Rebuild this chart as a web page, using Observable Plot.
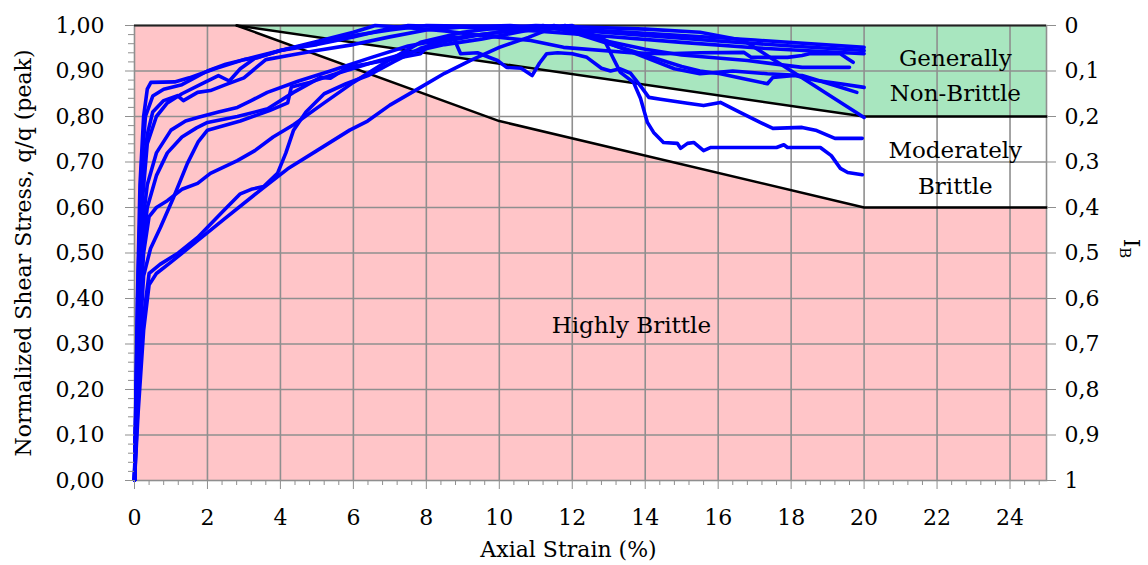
<!DOCTYPE html>
<html>
<head>
<meta charset="utf-8">
<script src="https://cdn.jsdelivr.net/npm/d3@7"></script>
<script src="https://cdn.jsdelivr.net/npm/@observablehq/plot@0.6"></script>
<style>
  html, body { margin: 0; padding: 0; background: #fff; }
</style>
</head>
<body>
<div id="chart"></div>
<script>
// ---- Tick values / labels ----
const xMajor = [0, 2, 4, 6, 8, 10, 12, 14, 16, 18, 20, 22, 24];
const xMinor = d3.range(0, 63).map(i => i * 0.4).filter(v => Math.abs(v / 2 - Math.round(v / 2)) > 1e-6);
const yMajor = [0, 0.1, 0.2, 0.3, 0.4, 0.5, 0.6, 0.7, 0.8, 0.9, 1.0];
const yMinor = d3.range(0, 51).map(i => i * 0.02).filter(v => Math.abs(v * 10 - Math.round(v * 10)) > 1e-6);
const xGrid = [2, 4, 6, 8, 10, 12, 14, 16, 18, 20, 22, 24];
const yGrid = [0.1, 0.2, 0.3, 0.4, 0.5, 0.6, 0.7, 0.8, 0.9];

// ---- Brittleness zone boundaries ----
const upperX = [2.8, 20, 25];
const upperY = [1.0, 0.80, 0.80];
const lowerX = [2.8, 10, 20, 25];
const lowerY = [1.0, 0.79, 0.60, 0.60];

// ---- Zone labels ----
const zoneLabels = [
  {text: "Highly Brittle", x: 13.62, y: 0.34},
  {text: "Generally", x: 22.5, y: 0.927},
  {text: "Non-Brittle", x: 22.5, y: 0.850},
  {text: "Moderately", x: 22.5, y: 0.725},
  {text: "Brittle", x: 22.5, y: 0.645}
];

// ---- Test curves: [axial strain %, q/q peak] ----
const curveS1 = [[0,0],[0.08,0.4],[0.15,0.65],[0.25,0.8],[0.35,0.86],[0.45,0.875],[1.1,0.876],[1.5,0.885],[2.2,0.905],[3,0.925],[4,0.945],[5,0.962],[6,0.978],[7,0.99],[8,1.0],[9.5,0.998],[11,0.995],[13,0.988],[15,0.978],[17,0.968],[20,0.952]];
const curveS2 = [[0,0],[0.1,0.4],[0.2,0.65],[0.35,0.76],[0.5,0.81],[0.8,0.835],[1.18,0.846],[1.34,0.835],[1.73,0.853],[2.08,0.857],[2.5,0.87],[3,0.885],[3.3,0.905],[3.6,0.925],[4.3,0.935],[5,0.945],[6,0.958],[7,0.975],[8,0.99],[9,0.997],[10.3,1.0],[12,0.99],[14,0.978],[16,0.966],[18,0.955],[20,0.945]];
const curveS3 = [[0,0],[0.1,0.35],[0.2,0.6],[0.35,0.74],[0.6,0.8],[0.9,0.83],[1.3,0.85],[1.8,0.87],[2.3,0.89],[2.6,0.878],[2.9,0.905],[3.3,0.928],[4,0.945],[5,0.958],[6,0.975],[6.8,0.99],[7.5,1.0],[9,0.996],[11,0.988],[13,0.976],[15,0.963],[17,0.951],[20,0.938]];
const curveS4 = [[0,0],[0.1,0.45],[0.2,0.7],[0.3,0.8],[0.5,0.845],[0.8,0.86],[1.3,0.87],[2,0.9],[2.5,0.915],[3,0.925],[3.4,0.93],[4,0.945],[5,0.965],[6,0.985],[6.6,1.0],[7.5,0.995],[8.5,0.988],[9.5,0.978],[10.86,0.967],[11.76,0.952],[13.6,0.94],[14.5,0.938],[15.5,0.94],[16.7,0.941],[16.9,0.93],[17.9,0.93],[18.3,0.934],[18.5,0.938],[19.35,0.938],[19.55,0.927],[19.7,0.919]];
const curveM1 = [[0,0],[0.1,0.35],[0.2,0.55],[0.35,0.65],[0.6,0.72],[1.0,0.77],[1.4,0.79],[1.73,0.798],[2.3,0.81],[2.82,0.82],[3.2,0.835],[3.64,0.853],[4.5,0.878],[5.37,0.90],[6.5,0.93],[7.5,0.955],[8.5,0.97],[10,0.985],[11,0.995],[12,1.0],[12.6,0.975],[13.2,0.955],[14,0.93],[14.8,0.905],[15.5,0.894],[16.4,0.90],[17.35,0.894],[18.3,0.89],[19.2,0.868],[19.8,0.853]];
const curveM2 = [[0,0],[0.1,0.25],[0.25,0.45],[0.44,0.51],[0.71,0.556],[1.07,0.622],[1.45,0.697],[1.75,0.745],[2.0,0.77],[2.9,0.79],[3.7,0.813],[4.2,0.83],[4.3,0.865],[4.8,0.875],[5.37,0.89],[6.5,0.918],[7.5,0.94],[8.5,0.958],[9.5,0.97],[10.5,0.985],[11.5,1.0],[12.3,0.985],[13,0.965],[14,0.948],[15,0.935],[16.8,0.923],[18.3,0.908],[19.6,0.908]];
const curveD1 = [[0,0],[0.1,0.3],[0.2,0.5],[0.35,0.6],[0.6,0.67],[0.9,0.72],[1.3,0.755],[1.7,0.775],[2.0,0.787],[2.82,0.80],[3.65,0.817],[4.36,0.853],[5.1,0.886],[5.37,0.884],[5.84,0.908],[6.39,0.916],[7.84,0.938],[8.2,0.967],[8.74,0.974],[8.94,0.938],[9.4,0.94],[9.95,0.923],[10.2,0.908],[10.6,0.906],[10.9,0.89],[11.1,0.917],[11.3,0.938],[11.6,0.94],[12.0,0.938],[12.4,0.93],[12.8,0.906],[13.05,0.90],[13.3,0.905],[13.6,0.895],[13.9,0.864],[14.1,0.842],[14.42,0.838],[15.16,0.829],[15.6,0.824],[16.06,0.831],[16.6,0.809],[17.15,0.787],[17.5,0.774],[18.3,0.776],[18.7,0.769],[19.2,0.752],[19.95,0.752]];
const curveL1 = [[0,0],[0.1,0.15],[0.25,0.33],[0.4,0.43],[0.6,0.455],[1.0,0.48],[1.73,0.527],[2.5,0.577],[3.54,0.644],[4.2,0.685],[5.0,0.725],[5.9,0.77],[6.39,0.79],[7.0,0.825],[7.84,0.864],[8.5,0.895],[9.2,0.923],[10.0,0.952],[10.8,0.974],[11.3,0.99],[11.8,1.0],[12.4,0.985],[12.86,0.971],[13.13,0.927],[13.32,0.897],[13.68,0.875],[13.87,0.84],[14.06,0.787],[14.23,0.765],[14.5,0.743],[14.88,0.741],[14.97,0.73],[15.16,0.741],[15.33,0.743],[15.6,0.725],[15.8,0.732],[16.6,0.732],[17.6,0.732],[17.8,0.738],[17.9,0.732],[18.8,0.732],[19.1,0.714],[19.35,0.686],[19.55,0.677],[19.95,0.672]];
const curveL2 = [[0,0],[0.1,0.18],[0.25,0.36],[0.4,0.455],[0.7,0.475],[1.2,0.5],[1.73,0.534],[2.44,0.593],[2.9,0.63],[3.2,0.64],[3.54,0.646],[3.92,0.675],[4.15,0.72],[4.36,0.77],[4.7,0.81],[5.2,0.85],[5.8,0.872],[6.4,0.89],[7.1,0.92],[7.84,0.95],[8.4,0.963],[9.5,0.98],[10.5,0.99],[11.2,1.0],[12,0.985],[13,0.96],[14,0.935],[15,0.91],[15.5,0.90],[16.06,0.894],[16.7,0.883],[17.35,0.872],[17.5,0.886],[18.1,0.89],[18.7,0.879],[19.35,0.872],[20,0.864]];
const curveC1 = [[0,0],[0.1,0.3],[0.25,0.5],[0.4,0.58],[0.6,0.6],[0.9,0.615],[1.3,0.64],[1.73,0.653],[2.08,0.675],[2.82,0.703],[3.3,0.725],[3.8,0.755],[4.36,0.782],[5.2,0.83],[6.0,0.875],[6.9,0.92],[7.84,0.963],[9,0.985],[10,0.995],[11,1.0],[12.5,0.996],[14,0.992],[15.5,0.985],[16.7,0.967],[17.5,0.926],[18.3,0.885],[19.1,0.844],[20,0.798]];

const curves = {curveS1, curveS2, curveS3, curveS4, curveM1, curveM2, curveD1, curveL1, curveL2, curveC1};
const curveRows = Object.entries(curves).flatMap(([id, pts]) => pts.map(([x, y]) => ({id, x, y})));

// ---- Zone polygons built from the boundaries ----
const interp = (xs, ys, x) => {
  for (let i = 0; i < xs.length - 1; i++) {
    if (x >= xs[i] && x <= xs[i + 1]) return ys[i] + (ys[i + 1] - ys[i]) * (x - xs[i]) / (xs[i + 1] - xs[i]);
  }
  return ys[ys.length - 1];
};
const zoneXs = Array.from(new Set([...upperX, ...lowerX])).sort((a, b) => a - b);
const greenZone = upperX.map((x, i) => ({x, lo: upperY[i], hi: 1}));
const whiteZone = zoneXs.map(x => ({x, lo: interp(lowerX, lowerY, x), hi: interp(upperX, upperY, x)}));
const upperLine = upperX.map((x, i) => ({x, y: upperY[i]}));
const lowerLine = lowerX.map((x, i) => ({x, y: lowerY[i]}));

const pink = "#ffc5c8";
const green = "#a8e6bf";
const gridGray = "#8f8f8f";
const fmtLeft = d => d.toFixed(2).replace(".", ",");
const fmtRight = d => { const v = Math.round((1 - d) * 10) / 10; return (v === 0 || v === 1) ? String(v) : v.toFixed(1).replace(".", ","); };

const chart = Plot.plot({
  width: 1148,
  height: 565,
  marginLeft: 134,
  marginRight: 102,
  marginTop: 25,
  marginBottom: 85,
  x: {domain: [0, 25]},
  y: {domain: [0, 1]},
  style: {fontFamily: "DejaVu Serif", fontSize: "22px", color: "black", background: "white"},
  marks: [
    Plot.frame({fill: pink}),
    Plot.areaY(greenZone, {x: "x", y1: "lo", y2: "hi", fill: green}),
    Plot.areaY(whiteZone, {x: "x", y1: "lo", y2: "hi", fill: "white"}),
    Plot.gridX(xGrid, {stroke: gridGray, strokeOpacity: 1, strokeWidth: 1.6}),
    Plot.gridY(yGrid, {stroke: gridGray, strokeOpacity: 1, strokeWidth: 1.6}),
    Plot.frame({stroke: gridGray, strokeWidth: 1.6}),
    Plot.ruleY([1], {stroke: "#222", strokeWidth: 2}),
    Plot.line(upperLine, {x: "x", y: "y", stroke: "black", strokeWidth: 2.5}),
    Plot.line(lowerLine, {x: "x", y: "y", stroke: "black", strokeWidth: 2.5}),
    Plot.line(curveRows, {x: "x", y: "y", z: "id", stroke: "#0000ff", strokeWidth: 3.6, strokeLinejoin: "round", strokeLinecap: "round"}),
    // axes
    Plot.axisX({ticks: xMinor, tickSize: 5, tickFormat: () => "", stroke: gridGray, label: null}),
    Plot.axisX({ticks: xMajor, tickSize: 9, tickPadding: 20, tickFormat: d => String(d), stroke: gridGray, fill: "black", fontSize: 22, label: null}),
    Plot.axisY({ticks: yMinor, anchor: "left", tickSize: 6, tickFormat: () => "", stroke: gridGray, label: null}),
    Plot.axisY({ticks: yMajor, anchor: "left", tickSize: 9, tickPadding: 21, tickFormat: fmtLeft, stroke: gridGray, fill: "black", fontSize: 22, label: null}),
    Plot.axisY({ticks: yMajor, anchor: "right", tickSize: 9, tickPadding: 9, tickFormat: fmtRight, stroke: gridGray, fill: "black", fontSize: 22, label: null}),
    // axis titles
    Plot.text(["Axial Strain (%)"], {frameAnchor: "bottom", dx: -22, dy: 76, fontSize: 22, fill: "black", textAnchor: "middle"}),
    Plot.text(["Normalized Shear Stress, q/q (peak)"], {frameAnchor: "left", dx: -111, rotate: -90, fontSize: 22, fill: "black", textAnchor: "middle"}),
    // zone labels
    Plot.text(zoneLabels, {x: "x", y: "y", text: "text", fontSize: 23, fill: "black"})
  ]
});

// secondary axis title I_B (with subscript)
const sx = chart.scale("x"), sy = chart.scale("y");
const ibx = sx.apply(25) + 78, iby = (sy.apply(0) + sy.apply(1)) / 2 - 4;
const ib = d3.select(chart).append("text")
  .attr("transform", `translate(${ibx},${iby}) rotate(90)`)
  .attr("text-anchor", "middle")
  .attr("font-family", "DejaVu Serif")
  .attr("font-size", 22)
  .attr("fill", "black");
ib.append("tspan").text("I");
ib.append("tspan").attr("font-size", 15).attr("dy", 4).text("B");

document.getElementById("chart").appendChild(chart);
</script>
</body>
</html>
